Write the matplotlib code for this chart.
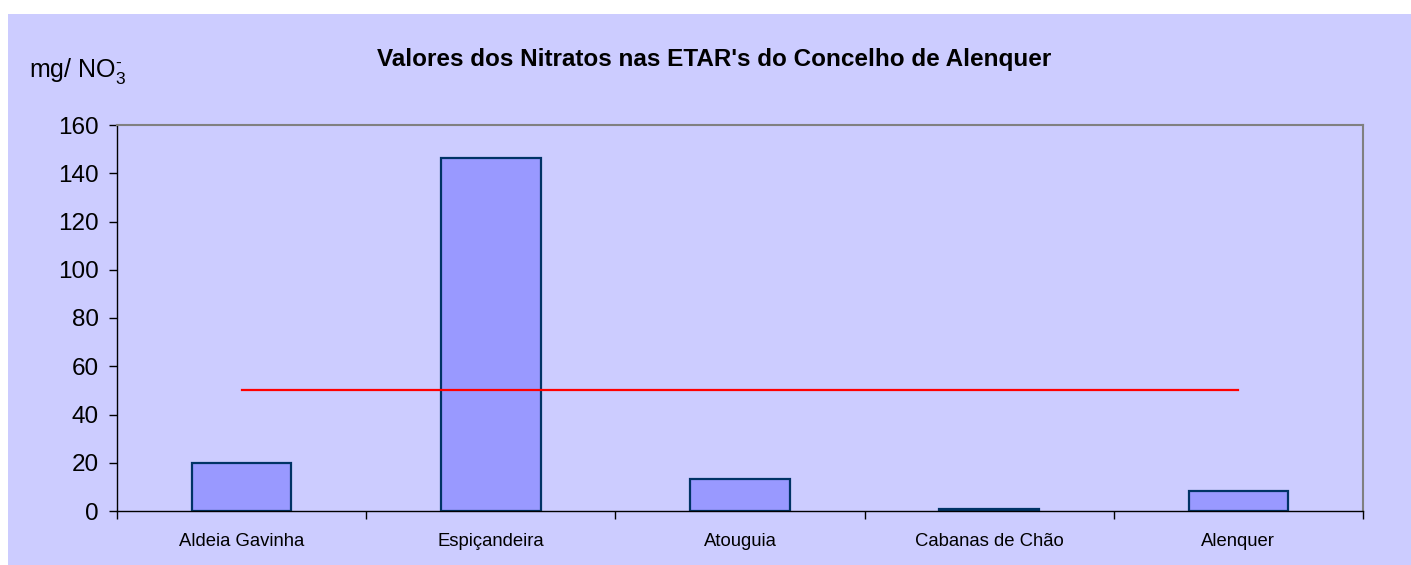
import numpy as np
import matplotlib.pyplot as plt
from matplotlib.patches import Rectangle

plt.rcParams['font.family'] = ['Liberation Sans', 'DejaVu Sans']
plt.rcParams['mathtext.fontset'] = 'custom'
plt.rcParams['mathtext.rm'] = 'Liberation Sans'
plt.rcParams['mathtext.it'] = 'Liberation Sans:italic'

# dados
etar = ['Aldeia Gavinha', 'Espiçandeira', 'Atouguia', 'Cabanas de Chão', 'Alenquer']
nitratos = [20, 146.3, 13.3, 1, 8.3]
limite = [50, 50, 50, 50, 50]
yticks = [0, 20, 40, 60, 80, 100, 120, 140, 160]

fundo = '#CCCCFF'

fig = plt.figure(figsize=(14.11, 5.65), dpi=100)
fig.patch.set_facecolor('white')
fundo_rect = Rectangle((8 / 1411, 0), 1 - 8 / 1411, 1 - 14 / 565,
                       transform=fig.transFigure, facecolor=fundo,
                       edgecolor='none', zorder=-10)
fig.add_artist(fundo_rect)

ax = fig.add_axes([117 / 1411, 1 - 511 / 565, (1363 - 117) / 1411, (511 - 125) / 565])
ax.set_facecolor(fundo)

x = np.arange(len(etar))
ax.bar(x, nitratos, width=0.4, color='#9999FF', edgecolor='#003366', linewidth=1.6, zorder=2)
ax.plot(x, limite, color='#FF0000', linewidth=1.6, zorder=3)

ax.set_xlim(-0.5, len(etar) - 0.5)
ax.set_ylim(0, 160)
ax.set_yticks(yticks)
ax.tick_params(axis='y', labelsize=17.5, length=6, width=1, direction='out', pad=7)

ax.set_xticks(x)
ax.set_xticklabels(etar, fontsize=13.3)
ax.set_xticks(np.arange(-0.5, len(etar), 1), minor=True)
ax.tick_params(axis='x', which='major', length=0, pad=16)
ax.tick_params(axis='x', which='minor', length=6, width=1, direction='out')

for s in ['left', 'bottom']:
    ax.spines[s].set_color('black')
    ax.spines[s].set_linewidth(1)
for s in ['top', 'right']:
    ax.spines[s].set_color('#808080')
    ax.spines[s].set_linewidth(1.5)

fig.text(714 / 1411, 1 - 60 / 565, "Valores dos Nitratos nas ETAR's do Concelho de Alenquer",
         ha='center', va='center', fontsize=17.5, fontweight='bold')
fig.text(29 / 1411, 1 - 77 / 565, r'mg/ NO$_3^{\text{-}}$', ha='left', va='baseline', fontsize=18)

fig.savefig('out.png', dpi=100, facecolor=fig.get_facecolor())
